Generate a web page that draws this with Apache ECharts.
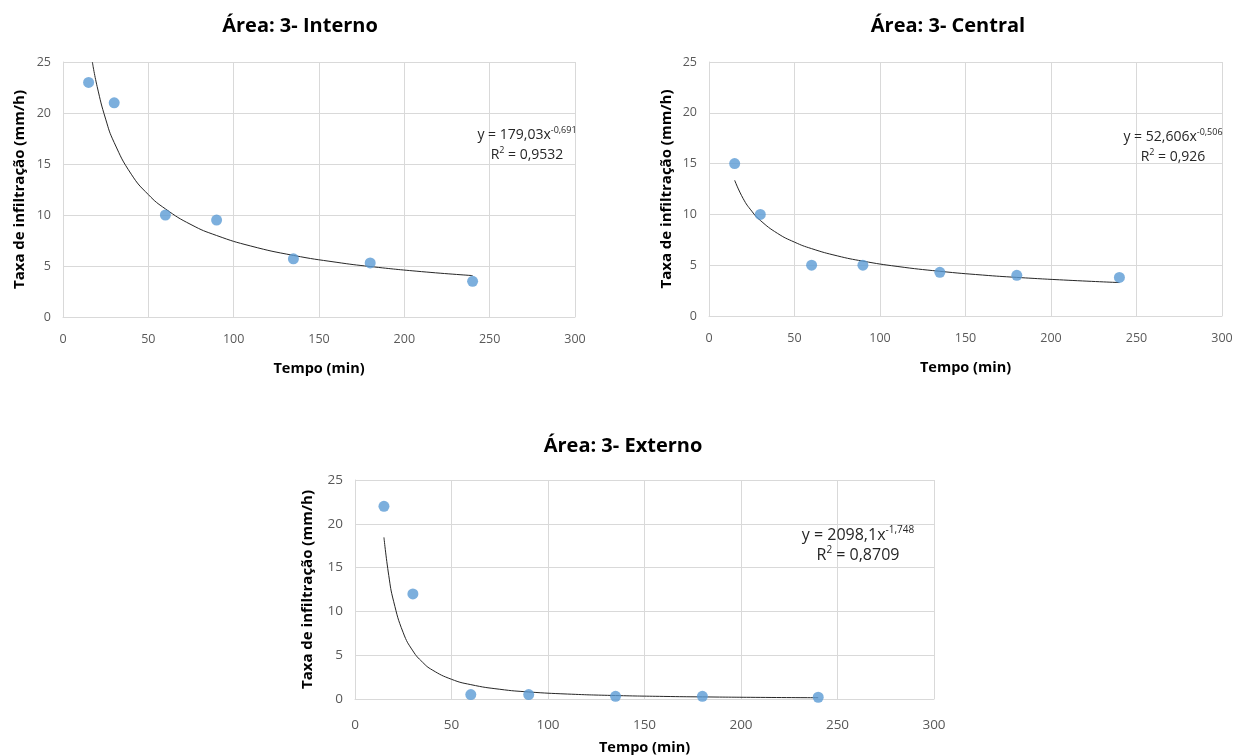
<!DOCTYPE html>
<html><head><meta charset="utf-8">
<script src="https://cdn.jsdelivr.net/npm/echarts@6/dist/echarts.min.js"></script>
<style>html,body{margin:0;padding:0;background:#fff}#c{width:1238px;height:756px}</style>
</head><body><div id="c"></div>
<script>
// measured data
const tempo = [15, 30, 60, 90, 135, 180, 240];
const interno = [23, 21, 10, 9.5, 5.7, 5.3, 3.5];
const central = [15, 10, 5, 5, 4.3, 4, 3.8];
const externo = [22, 12, 0.5, 0.5, 0.3, 0.3, 0.2];

// trend curves
const trendInternoX = [17.2, 20, 25, 30, 40, 50, 60, 75, 90, 110, 135, 160, 180, 210, 240];
const trendInternoY = [25.0, 22.6, 19.4, 17.1, 14.0, 12.0, 10.6, 9.06, 7.99, 6.96, 6.04, 5.37, 4.95, 4.45, 4.06];
const trendCentralX = [15, 20, 25, 30, 40, 50, 60, 75, 90, 110, 135, 160, 180, 210, 240];
const trendCentralY = [13.36, 11.55, 10.32, 9.41, 8.14, 7.27, 6.63, 5.92, 5.40, 4.88, 4.40, 4.03, 3.80, 3.52, 3.29];
const trendExternoX = [15, 17.5, 20, 25, 30, 35, 40, 50, 60, 75, 90, 110, 135, 160, 180, 210, 240];
const trendExternoY = [18.45, 14.09, 11.16, 7.56, 5.49, 4.20, 3.32, 2.25, 1.64, 1.11, 0.805, 0.567, 0.396, 0.294, 0.240, 0.183, 0.145];

const titles = ['Área: 3- Interno', 'Área: 3- Central', 'Área: 3- Externo'];
const eqCoef = ['179,03', '52,606', '2098,1'];
const eqExp = ['-0,691', '-0,506', '-1,748'];
const r2 = ['0,9532', '0,926', '0,8709'];
const xLabel = 'Tempo (min)';
const yLabel = 'Taxa de infiltração (mm/h)';

const FONT = '"Open Sans", "Noto Sans", sans-serif';
const grids = [
  {left: 63, top: 62, width: 512, height: 255},
  {left: 709, top: 62, width: 513, height: 254},
  {left: 355, top: 480, width: 579, height: 223}
];
const titlePos = [{x: 295, y: 11}, {x: 943, y: 11}, {x: 618, y: 431}];
const eqPos = [{x: 527, y: 135}, {x: 1173, y: 137}, {x: 858, y: 535}];
const eqSize = [14, 14, 16];
const tickSize = [12.5, 12.5, 13.5];
const tickMargin = [16, 16, 19];
const xNameGap = [44, 44, 41];
const yNameGap = [36, 35, 40];

const pairs = (xs, ys) => xs.map((x, i) => [x, ys[i]]);
const seriesVals = [interno, central, externo];
const trends = [[trendInternoX, trendInternoY], [trendCentralX, trendCentralY], [trendExternoX, trendExternoY]];

function eqText(x, yc, size, main1, sup, main2) {
  const lh = Math.round(size + 2);
  return {
    type: 'text', x: x, y: yc - lh / 2 - 1, z: 10,
    style: {
      text: '{b|' + main1 + '}{s|' + sup + '}' + (main2 ? '{b|' + main2 + '}' : ''),
      align: 'center', verticalAlign: 'top',
      rich: {
        b: {fontFamily: FONT, fontSize: size, lineHeight: lh, fill: '#262626', verticalAlign: 'bottom'},
        s: {fontFamily: FONT, fontSize: Math.round(size * 0.64), lineHeight: lh, fill: '#262626', verticalAlign: 'top'}
      }
    }
  };
}

const graphics = [];
eqPos.forEach((p, i) => {
  graphics.push(eqText(p.x, p.y, eqSize[i], 'y = ' + eqCoef[i] + 'x', eqExp[i], ''));
  graphics.push(eqText(p.x, p.y + 20, eqSize[i], 'R', '2', ' = ' + r2[i]));
});

const option = {
  backgroundColor: '#fff',
  animation: false,
  title: titles.map((t, i) => ({
    text: t, left: titlePos[i].x, top: titlePos[i].y, textAlign: 'center',
    textStyle: {fontFamily: FONT, fontSize: 20, fontWeight: 'bold', color: '#000'}
  })),
  grid: grids.map(g => ({...g, containLabel: false})),
  xAxis: grids.map((g, i) => ({
    gridIndex: i, type: 'value', min: 0, max: 300, interval: 50,
    name: xLabel, nameLocation: 'middle', nameGap: xNameGap[i],
    nameTextStyle: {fontFamily: FONT, fontSize: 14.5, fontWeight: 'bold', color: '#000'},
    axisLine: {show: true, lineStyle: {color: '#d9d9d9', width: 1}},
    axisTick: {show: false},
    axisLabel: {fontFamily: FONT, fontSize: tickSize[i], color: '#595959', margin: tickMargin[i]},
    splitLine: {show: true, lineStyle: {color: '#d9d9d9', width: 1}}
  })),
  yAxis: grids.map((g, i) => ({
    gridIndex: i, type: 'value', min: 0, max: 25, interval: 5,
    name: yLabel, nameLocation: 'middle', nameGap: yNameGap[i], nameRotate: 90,
    nameTextStyle: {fontFamily: FONT, fontSize: 15, fontWeight: 'bold', color: '#000'},
    axisLine: {show: true, lineStyle: {color: '#d9d9d9', width: 1}},
    axisTick: {show: false},
    axisLabel: {fontFamily: FONT, fontSize: tickSize[i], color: '#595959', margin: 12},
    splitLine: {show: true, lineStyle: {color: '#d9d9d9', width: 1}}
  })),
  series: [].concat(
    trends.map((t, i) => ({
      type: 'line', xAxisIndex: i, yAxisIndex: i, data: pairs(t[0], t[1]),
      showSymbol: false, smooth: 0.5, clip: true,
      lineStyle: {color: '#262626', width: 1}, z: 3, silent: true
    })),
    seriesVals.map((v, i) => ({
      type: 'scatter', xAxisIndex: i, yAxisIndex: i, data: pairs(tempo, v),
      symbol: 'circle', symbolSize: 11, itemStyle: {color: '#5b9bd5'}, z: 4
    }))
  ),
  graphic: graphics
};
const chart = echarts.init(document.getElementById('c'), null, {renderer: 'canvas'});
chart.setOption(option);
</script></body></html>
